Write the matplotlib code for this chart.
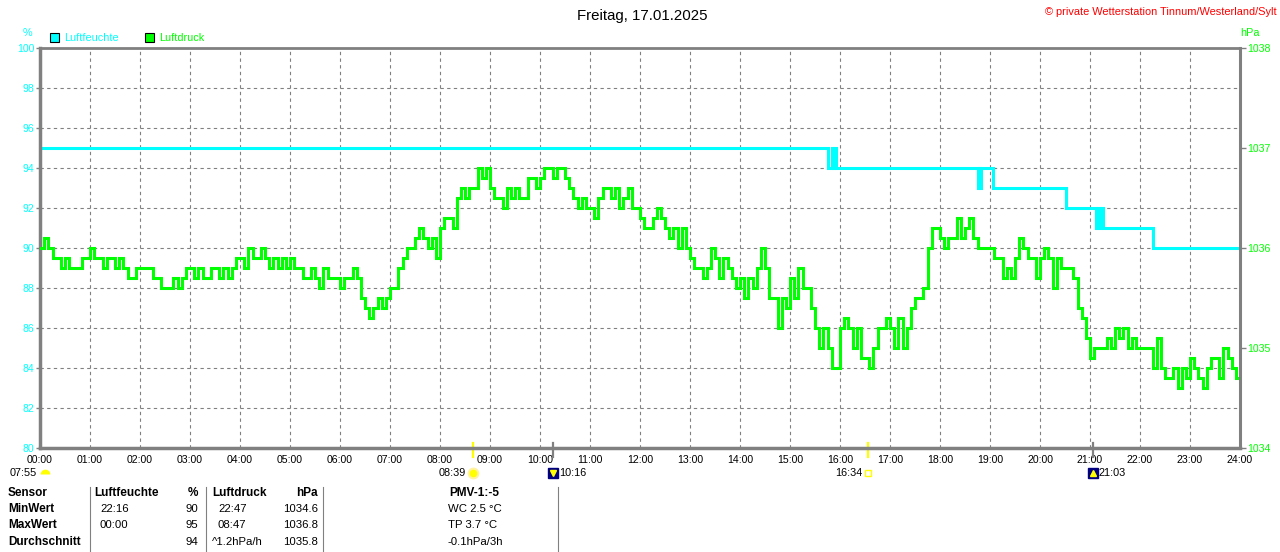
import matplotlib
matplotlib.use("Agg")
import matplotlib.pyplot as plt
import numpy as np
from matplotlib.patches import Rectangle
from matplotlib.lines import Line2D
from matplotlib.transforms import blended_transform_factory, offset_copy

plt.rcParams['font.family'] = ['Liberation Sans', 'DejaVu Sans']

CYAN = '#00FFFF'
GREEN = '#00FF00'
GRAY = '#808080'

title = "Freitag, 17.01.2025"
copyright_text = "\u00a9 private Wetterstation Tinnum/Westerland/Sylt"

hour_labels = ["%02d:00" % h for h in range(25)]
hum_ticks = [80, 82, 84, 86, 88, 90, 92, 94, 96, 98, 100]
press_ticks = [1034, 1035, 1036, 1037, 1038]

# Luftfeuchte as steps: change times and values
hum_times = ["00:00", "15:46", "15:50", "15:52", "15:53", "15:55", "18:46", "18:47",
             "18:48", "18:49", "19:03", "20:31", "21:07", "21:10", "21:12", "21:13",
             "21:15", "22:15", "24:00"]
hum_values = [95, 94, 95, 94, 95, 94, 93, 94,
              93, 94, 93, 92, 91, 92, 91, 92,
              91, 90, 90]

# Luftdruck, 5-minute samples (hPa), one row per hour
pressure_hpa = [
    1036.0, 1036.1, 1036.0, 1035.9, 1035.9, 1035.8, 1035.9, 1035.8, 1035.8, 1035.8, 1035.9, 1035.9,
    1036.0, 1035.9, 1035.9, 1035.8, 1035.9, 1035.9, 1035.8, 1035.9, 1035.8, 1035.7, 1035.7, 1035.8,
    1035.8, 1035.8, 1035.8, 1035.7, 1035.7, 1035.6, 1035.6, 1035.6, 1035.7, 1035.6, 1035.7, 1035.8,
    1035.8, 1035.7, 1035.8, 1035.7, 1035.7, 1035.8, 1035.8, 1035.7, 1035.8, 1035.7, 1035.8, 1035.9,
    1035.9, 1035.8, 1036.0, 1035.9, 1035.9, 1036.0, 1035.9, 1035.8, 1035.9, 1035.8, 1035.9, 1035.8,
    1035.9, 1035.8, 1035.8, 1035.7, 1035.7, 1035.8, 1035.7, 1035.6, 1035.8, 1035.7, 1035.7, 1035.7,
    1035.6, 1035.7, 1035.7, 1035.8, 1035.7, 1035.5, 1035.4, 1035.3, 1035.4, 1035.5, 1035.4, 1035.5,
    1035.6, 1035.6, 1035.8, 1035.9, 1036.0, 1036.0, 1036.1, 1036.2, 1036.1, 1036.0, 1036.1, 1035.9,
    1036.2, 1036.3, 1036.3, 1036.2, 1036.5, 1036.6, 1036.5, 1036.6, 1036.6, 1036.8, 1036.7, 1036.8,
    1036.6, 1036.5, 1036.5, 1036.4, 1036.6, 1036.5, 1036.6, 1036.5, 1036.5, 1036.7, 1036.7, 1036.6,
    1036.7, 1036.8, 1036.8, 1036.7, 1036.8, 1036.8, 1036.7, 1036.6, 1036.5, 1036.4, 1036.5, 1036.4,
    1036.4, 1036.3, 1036.5, 1036.6, 1036.6, 1036.5, 1036.6, 1036.4, 1036.5, 1036.6, 1036.4, 1036.4,
    1036.3, 1036.2, 1036.2, 1036.3, 1036.4, 1036.3, 1036.2, 1036.1, 1036.2, 1036.0, 1036.2, 1036.0,
    1035.9, 1035.8, 1035.8, 1035.7, 1035.8, 1036.0, 1035.9, 1035.7, 1035.9, 1035.8, 1035.7, 1035.6,
    1035.7, 1035.5, 1035.7, 1035.6, 1035.8, 1036.0, 1035.8, 1035.5, 1035.5, 1035.2, 1035.5, 1035.4,
    1035.7, 1035.5, 1035.8, 1035.6, 1035.6, 1035.4, 1035.2, 1035.0, 1035.2, 1035.0, 1034.8, 1034.8,
    1035.2, 1035.3, 1035.2, 1035.0, 1035.2, 1034.9, 1034.9, 1034.8, 1035.0, 1035.2, 1035.2, 1035.3,
    1035.2, 1035.0, 1035.3, 1035.0, 1035.2, 1035.4, 1035.5, 1035.5, 1035.6, 1036.0, 1036.2, 1036.2,
    1036.1, 1036.0, 1036.1, 1036.1, 1036.3, 1036.1, 1036.2, 1036.3, 1036.1, 1036.0, 1036.0, 1036.0,
    1036.0, 1035.9, 1035.9, 1035.7, 1035.8, 1035.7, 1035.9, 1036.1, 1036.0, 1035.9, 1035.9, 1035.7,
    1035.9, 1036.0, 1035.9, 1035.6, 1035.9, 1035.8, 1035.8, 1035.8, 1035.7, 1035.4, 1035.3, 1035.1,
    1034.9, 1035.0, 1035.0, 1035.0, 1035.1, 1035.0, 1035.2, 1035.1, 1035.2, 1035.0, 1035.1, 1035.0,
    1035.0, 1035.0, 1035.0, 1034.8, 1035.1, 1034.8, 1034.7, 1034.7, 1034.8, 1034.6, 1034.8, 1034.7,
    1034.9, 1034.8, 1034.7, 1034.6, 1034.8, 1034.9, 1034.9, 1034.7, 1035.0, 1034.9, 1034.8, 1034.7,
]

# sun / moon events below the axis
event_times = ["08:39", "10:16", "16:34", "21:03"]
event_kinds = ["sunrise", "moonset", "sunset", "moonrise"]
dawn_label = "07:55"

table_header = ["Sensor", "Luftfeuchte", "%", "Luftdruck", "hPa", "PMV-1:-5"]
row_names = ["MinWert", "MaxWert", "Durchschnitt"]
hum_time_col = ["22:16", "00:00", ""]
hum_val_col = ["90", "95", "94"]
press_time_col = ["22:47", "08:47", "^1.2hPa/h"]
press_val_col = ["1034.6", "1036.8", "1035.8"]
pmv_col = ["WC 2.5 \u00b0C", "TP 3.7 \u00b0C", "-0.1hPa/3h"]


def to_hours(s):
    h, m = s.split(":")
    return int(h) + int(m) / 60.0


W, H = 1280, 552
FS = 7.8  # normal text size


def px(x, y):
    return x / W, 1 - y / H


fig = plt.figure(figsize=(W / 100, H / 100), dpi=100)
fig.patch.set_facecolor('white')
ax = fig.add_axes([40 / W, 1 - 448 / H, 1200 / W, 400 / H])
ax2 = ax.twinx()

# grid & axes
ax.set_xlim(0, 24)
ax.set_ylim(80, 100)
ax2.set_ylim(1034, 1038)
ax.set_xticks(range(25))
ax.set_xticklabels(hour_labels, fontsize=7.6)
ax.set_yticks(hum_ticks)
ax.set_yticklabels([str(v) for v in hum_ticks], fontsize=7.6)
ax2.set_yticks(press_ticks)
ax2.set_yticklabels([str(v) for v in press_ticks], fontsize=7.6)
ax.grid(True, color=GRAY, linestyle=(0, (3, 3)), linewidth=0.8)
ax.tick_params(axis='x', length=0, pad=5, colors='black')
ax.tick_params(axis='y', length=3, width=1, color=GRAY, labelcolor=CYAN, pad=1)
ax2.tick_params(axis='y', length=4, width=1, color=GRAY, labelcolor=GREEN, pad=1)
for sp in ax.spines.values():
    sp.set_color(GRAY)
    sp.set_linewidth(2)
ax.spines['left'].set_linewidth(2.5)
ax.spines['bottom'].set_linewidth(2.5)
for sp in ax2.spines.values():
    sp.set_visible(False)
ax2.spines['right'].set_visible(True)
ax2.spines['right'].set_color(GRAY)
ax2.spines['right'].set_linewidth(2.2)

# data lines
ht = [to_hours(t) for t in hum_times]
ax.plot(ht, hum_values, drawstyle='steps-post', color=CYAN, lw=2.2, solid_joinstyle='miter')
pt = np.arange(len(pressure_hpa)) * 5 / 60.0
pt = np.append(pt, 24.0)
pv = np.append(pressure_hpa, pressure_hpa[-1])
ax2.plot(pt, pv, drawstyle='steps-post', color=GREEN, lw=2.2, solid_joinstyle='miter')

# events below axis
trans = blended_transform_factory(ax.transData, ax.transAxes)
icon_trans = offset_copy(trans, fig=fig, x=0, y=-25, units='dots')
for t, kind in zip(event_times, event_kinds):
    x = to_hours(t)
    tick_col = 'yellow' if kind.startswith('sun') else GRAY
    ax.plot([x, x], [-0.0225, 0.0125], transform=trans, clip_on=False, color=tick_col, lw=1.6)
    if kind == 'sunrise':
        ax.plot([x], [0], transform=icon_trans, clip_on=False, marker='o', ms=7,
                color='yellow', mec='#FFF2A0', mew=1.5)
        ax.annotate(t, xy=(x, 0), xycoords=trans, xytext=(-7, -25), textcoords='offset pixels',
                    ha='right', va='center', fontsize=FS, annotation_clip=False)
    elif kind == 'sunset':
        ax.plot([x], [0], transform=icon_trans, clip_on=False, marker='s', ms=4.5,
                color='yellow', mfc='none', mew=1)
        ax.annotate(t, xy=(x, 0), xycoords=trans, xytext=(-6, -25), textcoords='offset pixels',
                    ha='right', va='center', fontsize=FS, annotation_clip=False)
    else:
        ax.plot([x], [0], transform=icon_trans, clip_on=False, marker='s', ms=7,
                color='#000080')
        ax.plot([x], [0], transform=icon_trans, clip_on=False,
                marker='v' if kind == 'moonset' else '^', ms=4, color='yellow')
        ax.annotate(t, xy=(x, 0), xycoords=trans, xytext=(6, -25), textcoords='offset pixels',
                    ha='left', va='center', fontsize=FS, annotation_clip=False)

# dawn label at far left
fig.text(*px(37, 473), dawn_label, ha='right', va='center', fontsize=FS)
dawn = Line2D([45 / W], [1 - 474 / H], marker='o', fillstyle='top', ms=7, color='yellow',
              mew=0, transform=fig.transFigure, linestyle='none')
fig.add_artist(dawn)

# title and header texts
fig.text(*px(642, 16), title, ha='center', va='center', fontsize=10.8)
fig.text(*px(1277, 12), copyright_text, ha='right', va='center', fontsize=7.9, color='red')
fig.text(*px(27, 33), "%", ha='center', va='center', fontsize=FS, color=CYAN)
fig.text(*px(1240, 33), "hPa", ha='left', va='center', fontsize=FS, color=GREEN)

# legend
fig.add_artist(Rectangle(px(50, 42), 9 / W, 9 / H, transform=fig.transFigure,
                         facecolor=CYAN, edgecolor='black', lw=0.8))
fig.text(*px(64, 38), "Luftfeuchte", ha='left', va='center', fontsize=FS, color=CYAN)
fig.add_artist(Rectangle(px(145, 42), 9 / W, 9 / H, transform=fig.transFigure,
                         facecolor=GREEN, edgecolor='black', lw=0.8))
fig.text(*px(159, 38), "Luftdruck", ha='left', va='center', fontsize=FS, color=GREEN)

# table
for xs in [90, 206, 323, 558]:
    fig.add_artist(Line2D([xs / W, xs / W], [1 - 487 / H, 0], color=GRAY, lw=0.8,
                          transform=fig.transFigure))
hx = [(8, 'left'), (94, 'left'), (198, 'right'), (212, 'left'), (318, 'right'), (474, 'center')]
for txt, (x, ha) in zip(table_header, hx):
    fig.text(*px(x, 493), txt, ha=ha, va='center', fontsize=8.5, fontweight='bold')
row_y = [509, 525, 542]
for i, y in enumerate(row_y):
    fig.text(*px(8, y), row_names[i], ha='left', va='center', fontsize=8.5, fontweight='bold')
    fig.text(*px(100, y), hum_time_col[i], ha='left', va='center', fontsize=8.2)
    fig.text(*px(198, y), hum_val_col[i], ha='right', va='center', fontsize=8.2)
    fig.text(*px(212 if i == 2 else 218, y), press_time_col[i], ha='left', va='center', fontsize=8.2)
    fig.text(*px(318, y), press_val_col[i], ha='right', va='center', fontsize=8.2)
    fig.text(*px(448, y), pmv_col[i], ha='left', va='center', fontsize=8.2)

fig.savefig("out.png", dpi=100, facecolor='white')
